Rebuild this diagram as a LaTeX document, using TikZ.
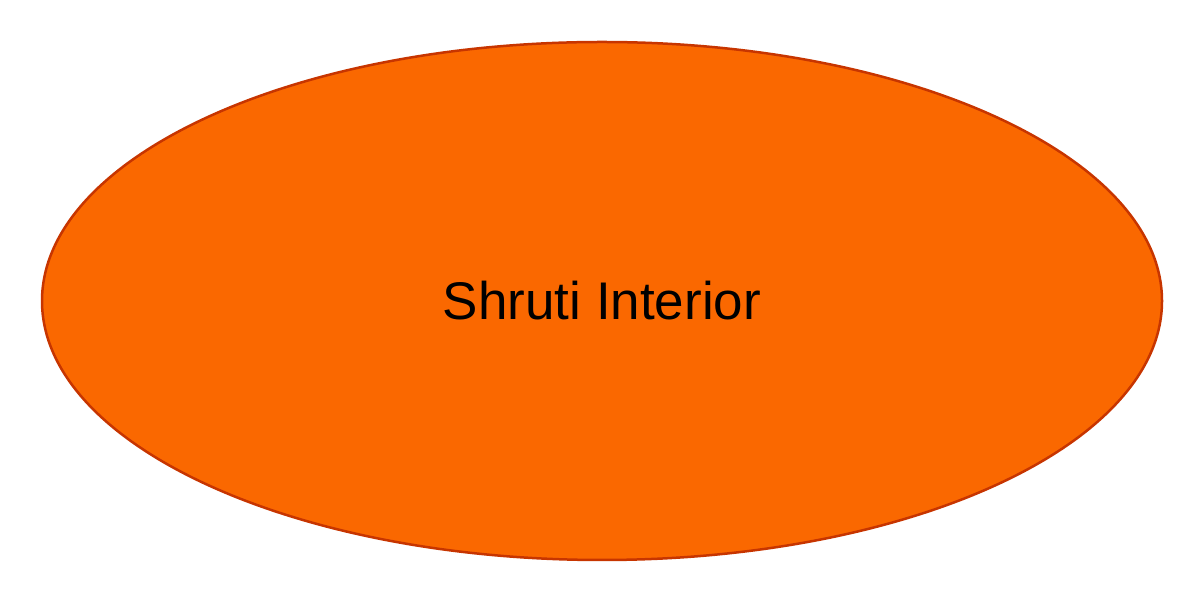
\documentclass[tikz,border=0pt]{standalone}
\usepackage{fontspec}
\setmainfont{Liberation Sans}
\usetikzlibrary{shapes.geometric}
\definecolor{shrutifill}{HTML}{FA6800}
\definecolor{shrutiline}{HTML}{C73500}

\begin{document}
\begin{tikzpicture}[x=1pt, y=1pt, every node/.style={inner sep=0pt}]
      \useasboundingbox (0,0) rectangle (1204,604);
      \node[ellipse, draw=shrutiline, fill=shrutifill, line width=2.5pt, minimum width=1120pt, minimum height=518pt, font=\fontsize{53}{60}\selectfont] (shruti) at (602,303) {Shruti Interior};
    \end{tikzpicture}
\end{document}
